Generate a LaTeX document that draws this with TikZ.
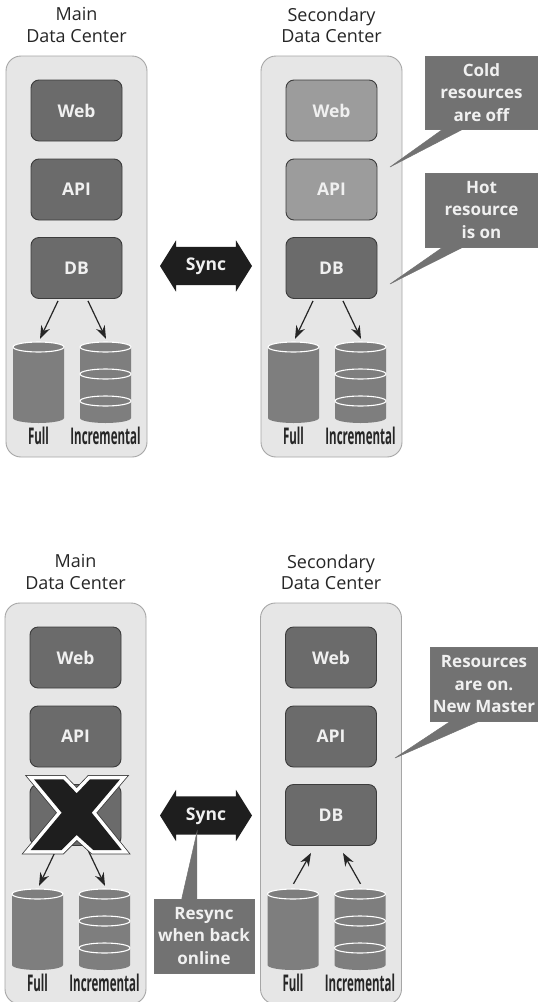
\documentclass[tikz,border=0pt]{standalone}
\usepackage{fontspec}
\setmainfont{Open Sans}
\usetikzlibrary{arrows.meta,calc,shapes.arrows}
\definecolor{panelfill}{HTML}{E6E6E6}
\definecolor{paneledge}{HTML}{A6A6A6}
\definecolor{boxdark}{HTML}{6B6B6B}
\definecolor{boxlight}{HTML}{9C9C9C}
\definecolor{boxedge}{HTML}{3C3C3C}
\definecolor{cyl}{HTML}{7E7E7E}
\definecolor{notefill}{HTML}{727272}
\definecolor{syncfill}{HTML}{1E1E1E}
\definecolor{txtw}{HTML}{F0F0F0}
\definecolor{txtd}{HTML}{262626}
\tikzset{
  panel/.style={draw=paneledge,line width=0.9pt,fill=panelfill,rounded corners=15pt,minimum width=141pt,minimum height=401pt,inner sep=0pt},
  tier/.style={draw=boxedge,line width=0.9pt,rounded corners=8pt,minimum width=91pt,minimum height=61pt,inner sep=0pt,text=txtw,font=\bfseries\fontsize{17.5}{20}\selectfont},
  title/.style={align=center,text=txtd,font=\fontsize{18}{21.5}\selectfont,inner sep=0pt},
  storelabel/.style={text=txtd,inner sep=0pt,font=\bfseries\fontsize{23}{26}\selectfont},
  note/.style={draw=paneledge!70!black,line width=0.5pt,fill=notefill,align=center,text=txtw,inner sep=0pt,font=\bfseries\fontsize{17}{22.5}\selectfont},
  notetail/.style={draw=paneledge!70!black,line width=0.5pt,fill=notefill,line join=miter},
  flow/.style={draw=txtd,line width=1.2pt,-{Stealth[length=13pt,width=9.5pt]}},
  syncarrow/.style={double arrow,fill=syncfill,text=txtw,font=\bfseries\fontsize{17.5}{20}\selectfont,minimum height=92pt,minimum width=48pt,inner xsep=0pt,inner ysep=10.5pt,text height=13pt,text depth=4pt,double arrow head extend=6.5pt,double arrow tip angle=116},
  store/.style={minimum width=51pt,minimum height=81pt,inner sep=0pt},
  xmark/.style={line join=miter,miter limit=8}
}
% #1 x shift, #2 y shift, #3 prefix, #4 web+api colour, #5 title
\newcommand\dccolumn[5]{%
\begin{scope}[shift={(#1,#2)}]
  \node[panel] (#3panel) at (76.5,256.5) {};
  \node[title] (#3title) at (76.5,25) {#5};
  \node[tier,fill=#4] (#3web) at (76.5,110.5) {Web};
  \node[tier,fill=#4] (#3api) at (76.5,189.5) {API};
  \node[tier,fill=boxdark] (#3db) at (76.5,268) {DB};
  \node[store] (#3full) at (38.5,382.5) {};
  \node[store] (#3inc) at (105.5,382.5) {};
  \fill[cyl] (13,347) arc[start angle=180,end angle=360,x radius=25.5,y radius=5] -- (64,418) arc[start angle=0,end angle=180,x radius=25.5,y radius=5] -- cycle;
  \draw[white,line width=1.1pt] (13,347) arc[start angle=180,end angle=360,x radius=25.5,y radius=5] arc[start angle=0,end angle=180,x radius=25.5,y radius=5];
  \fill[cyl] (80,347) arc[start angle=180,end angle=360,x radius=25.5,y radius=5] -- (131,418) arc[start angle=0,end angle=180,x radius=25.5,y radius=5] -- cycle;
  \draw[white,line width=1.1pt] (105.5,347) ellipse[x radius=25.5,y radius=5];
  \draw[white,line width=1.1pt] (105.5,374) ellipse[x radius=25.5,y radius=5];
  \draw[white,line width=1.1pt] (105.5,401) ellipse[x radius=25.5,y radius=5];
  \node[storelabel] (#3lfull) at (38.5,436) {\scalebox{0.5}[1]{Full}};
  \node[storelabel] (#3linc) at (105.5,436) {\scalebox{0.5}[1]{Incremental}};
\end{scope}}
\newcommand\flowsdown[1]{%
  \draw[flow] ($(#1db.south)+(-18.5,2)$) -- ($(#1full.north)+(1.5,-3)$);
  \draw[flow] ($(#1db.south)+(11.5,2)$) -- ($(#1inc.north)+(0.5,-3)$);}
\newcommand\xshape{(34,779.3) -- (63.3,779.3) -- (76.7,793.3) -- (90,779.3) -- (120,779.3) -- (91.7,812.7) -- (121.7,850) -- (93.3,850) -- (76.7,835) -- (61.7,850) -- (30.7,850) -- (61.7,812.7) -- cycle}
\begin{document}
\begin{tikzpicture}[x=1pt,y=-1pt]
\useasboundingbox (0,0) rectangle (538,1002);
\fill[white] (0,0) rectangle (538,1002);
% top diagram
\dccolumn{0}{0}{a}{boxdark}{Main\\Data Center}
\dccolumn{255}{0}{b}{boxlight}{Secondary\\Data Center}
\flowsdown{a}
\flowsdown{b}
\node[syncarrow] (synca) at (206,266) {Sync};
\coordinate (coldtip) at (390,167);
\coordinate (hottip) at (390,284);
\node[note,minimum width=113pt,minimum height=73pt] (cold) at (481.5,92.5) {Cold\\resources\\are off};
\node[note,minimum width=113pt,minimum height=74pt] (hot) at (481.5,210) {Hot\\resource\\is on};
\draw[notetail] ($(cold.south west)+(18,0)$) -- (coldtip) -- ($(cold.south west)+(38,0)$);
\fill[notefill] ($(cold.south west)+(18.3,-1)$) rectangle ($(cold.south west)+(37.7,0.2)$);
\draw[notetail] ($(hot.south west)+(18,0)$) -- (hottip) -- ($(hot.south west)+(38,0)$);
\fill[notefill] ($(hot.south west)+(18.3,-1)$) rectangle ($(hot.south west)+(37.7,0.2)$);
% bottom diagram
\dccolumn{-1}{547}{c}{boxdark}{Main\\Data Center}
\dccolumn{254.5}{547}{d}{boxdark}{Secondary\\Data Center}
\flowsdown{c}
\draw[flow] ($(dfull.north)+(0.5,-5)$) -- ($(ddb.south)+(-20,7)$);
\draw[flow] ($(dinc.north)+(0.5,-5)$) -- ($(ddb.south)+(12,7)$);
% failure mark
\path[xmark,draw=boxedge,line width=8.6pt] \xshape;
\path[xmark,draw=white,line width=7pt] \xshape;
\path[fill=syncfill] \xshape;
\node[syncarrow] (syncb) at (206,815.5) {Sync};
\node[note,minimum width=100pt,minimum height=74pt] (resync) at (204,936) {Resync\\when back\\online};
\coordinate (resynctip) at (197,832);
\draw[notetail] ($(resync.north west)+(28,0)$) -- (resynctip) -- ($(resync.north west)+(43,0)$);
\fill[notefill] ($(resync.north west)+(28.3,1)$) rectangle ($(resync.north west)+(42.7,-0.2)$);
\node[note,minimum width=108pt,minimum height=74pt] (master) at (484,684.5) {Resources\\are on.\\New Master};
\coordinate (mastertip) at (395,758);
\draw[notetail] ($(master.south west)+(20,0)$) -- (mastertip) -- ($(master.south west)+(48,0)$);
\fill[notefill] ($(master.south west)+(20.3,-1)$) rectangle ($(master.south west)+(47.7,0.2)$);
\end{tikzpicture}
\end{document}
